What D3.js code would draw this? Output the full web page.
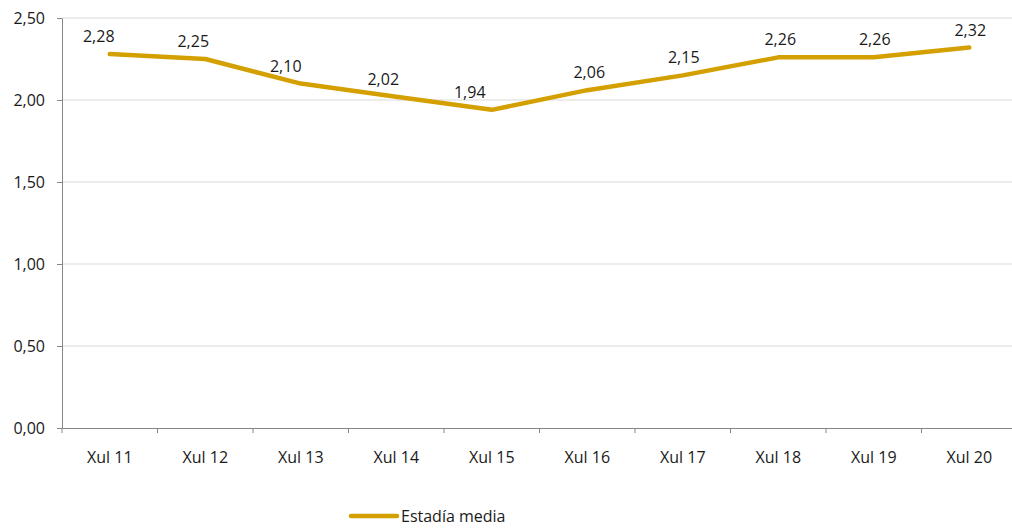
<!DOCTYPE html>
<html>
<head>
<meta charset="utf-8">
<script src="https://cdn.jsdelivr.net/npm/d3@7"></script>
<style>
  body { margin: 0; background: #fff; overflow: hidden; }
  text { font-family: "Open Sans", "Noto Sans", sans-serif; fill: #1a1a1a; }
</style>
</head>
<body>
<div id="chart"></div>
<script>
var categories = ["Xul 11", "Xul 12", "Xul 13", "Xul 14", "Xul 15", "Xul 16", "Xul 17", "Xul 18", "Xul 19", "Xul 20"];
var values = [2.28, 2.25, 2.10, 2.02, 1.94, 2.06, 2.15, 2.26, 2.26, 2.32];
var yTicks = [0, 0.5, 1, 1.5, 2, 2.5];
var seriesName = "Estadía media";

// small horizontal nudges of the data labels, as placed in the original
var labelShift = [-11, -12, -15, -13, -22, 2, 1, 2, 1, 1];

var width = 1012,
    height = 528,
    margin = {top: 18, bottom: 100, left: 62},
    plotRight = 1017;

var lineColor = "#D4A000";
var fmt = function(v) { return d3.format(".2f")(v).replace(".", ","); };

var svg = d3.select("#chart")
    .append("svg")
    .attr("width", width)
    .attr("height", height);

var x = d3.scaleBand()
    .domain(categories)
    .range([margin.left, plotRight]);

var y = d3.scaleLinear()
    .domain([0, 2.5])
    .range([height - margin.bottom, margin.top]);

// gridlines
svg.append("g")
    .selectAll("line")
    .data(yTicks.slice(1))
    .enter().append("line")
    .attr("x1", margin.left)
    .attr("x2", plotRight)
    .attr("y1", d => y(d))
    .attr("y2", d => y(d))
    .attr("stroke", "#d9d9d9")
    .attr("stroke-width", 1);

// y axis
var yAxis = svg.append("g")
    .attr("transform", "translate(" + margin.left + ",0)")
    .call(d3.axisLeft(y).tickValues(yTicks).tickFormat(fmt).tickSize(5).tickSizeOuter(0));
yAxis.select(".domain").attr("stroke", "#868686");
yAxis.selectAll(".tick line").attr("stroke", "#868686");
yAxis.selectAll("text").style("font-size", "16px").attr("x", -17);

// x axis
var xAxis = svg.append("g")
    .attr("transform", "translate(0," + y(0) + ")")
    .call(d3.axisBottom(x).tickSize(0).tickSizeOuter(0));
xAxis.select(".domain").attr("stroke", "#868686");
xAxis.selectAll("text").style("font-size", "16px").attr("y", 35).attr("dy", null);

// category separator ticks
svg.append("g")
    .selectAll("line")
    .data(categories.map(c => x(c)))
    .enter().append("line")
    .attr("x1", d => d)
    .attr("x2", d => d)
    .attr("y1", y(0))
    .attr("y2", y(0) + 5)
    .attr("stroke", "#868686");

// the line
var line = d3.line()
    .x((d, i) => x(categories[i]) + x.bandwidth() / 2)
    .y(d => y(d));

svg.append("path")
    .datum(values)
    .attr("d", line)
    .attr("fill", "none")
    .attr("stroke", lineColor)
    .attr("stroke-width", 4.5)
    .attr("stroke-linejoin", "round")
    .attr("stroke-linecap", "round");

// data labels
svg.append("g")
    .selectAll("text")
    .data(values)
    .enter().append("text")
    .attr("x", (d, i) => x(categories[i]) + x.bandwidth() / 2 + labelShift[i])
    .attr("y", d => y(d) - 12)
    .attr("text-anchor", "middle")
    .style("font-size", "16px")
    .text(d => fmt(d));

// legend
var legend = svg.append("g").attr("transform", "translate(351,516)");
legend.append("line")
    .attr("x1", 0).attr("x2", 46)
    .attr("stroke", lineColor)
    .attr("stroke-width", 4.5)
    .attr("stroke-linecap", "round");
legend.append("text")
    .attr("x", 50)
    .attr("dy", "0.35em")
    .style("font-size", "16px")
    .text(seriesName);
</script>
</body>
</html>
